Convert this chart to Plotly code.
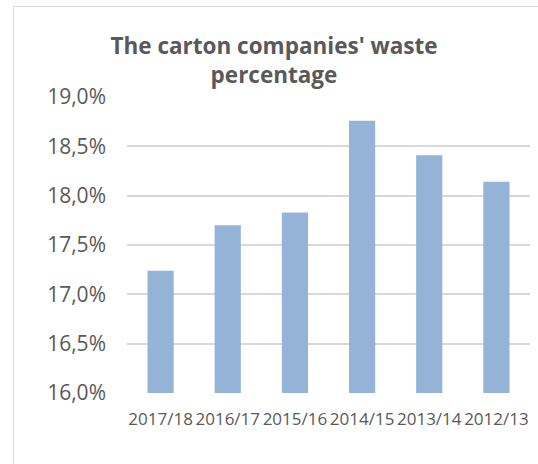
import plotly.graph_objects as go

categories = ["2017/18", "2016/17", "2015/16", "2014/15", "2013/14", "2012/13"]
waste_pct = [17.24, 17.70, 17.83, 18.76, 18.41, 18.14]
title_text = "The carton companies' waste<br>percentage"

W, H = 538, 464
L, R, T, B = 127, 8, 97, 71

fig = go.Figure()
fig.add_trace(go.Bar(
    x=categories, y=waste_pct,
    marker=dict(color="#95B3D7", line=dict(width=0)),
    width=0.39,
))

fig.update_layout(
    width=W, height=H,
    margin=dict(l=L, r=R, t=T, b=B, pad=0),
    paper_bgcolor="white", plot_bgcolor="white",
    separators=", ",
    font=dict(family="Open Sans", color="#595959"),
    title=dict(
        text=title_text,
        font=dict(family="Open Sans", size=22.5, color="#595959", weight="bold"),
        x=274 / W, xanchor="center", xref="container",
        y=1 - 54 / H, yanchor="top", yref="container",
    ),
    showlegend=False,
    xaxis=dict(
        type="category",
        showgrid=False, showline=False, zeroline=False,
        ticks="", tickfont=dict(size=17, color="#595959"),
        ticklabelstandoff=14,
    ),
    yaxis=dict(
        range=[16, 19], dtick=0.5, tick0=16,
        tickformat=".1f", ticksuffix="%",
        showgrid=True, gridcolor="#D9D9D9", gridwidth=1.5,
        showline=False, zeroline=False,
        ticks="", tickfont=dict(size=21, color="#595959"),
        ticklabelstandoff=20,
    ),
)

# chart-area frame (left and top edges visible in the reference crop)
frame_js = (
    "document.documentElement.style.overflow='hidden';"
    "document.body.style.margin='0';"
    "document.body.style.overflow='hidden';"
    "var f=document.createElement('div');"
    "f.style.cssText='position:absolute;left:13px;top:6px;width:525px;height:458px;"
    "box-sizing:border-box;border-left:1.5px solid #D9D9D9;border-top:1.5px solid #D9D9D9;"
    "pointer-events:none;z-index:10;';"
    "document.body.appendChild(f);"
)

fig.write_html(
    "out.html",
    config={"displayModeBar": False},
    post_script=frame_js,
)
